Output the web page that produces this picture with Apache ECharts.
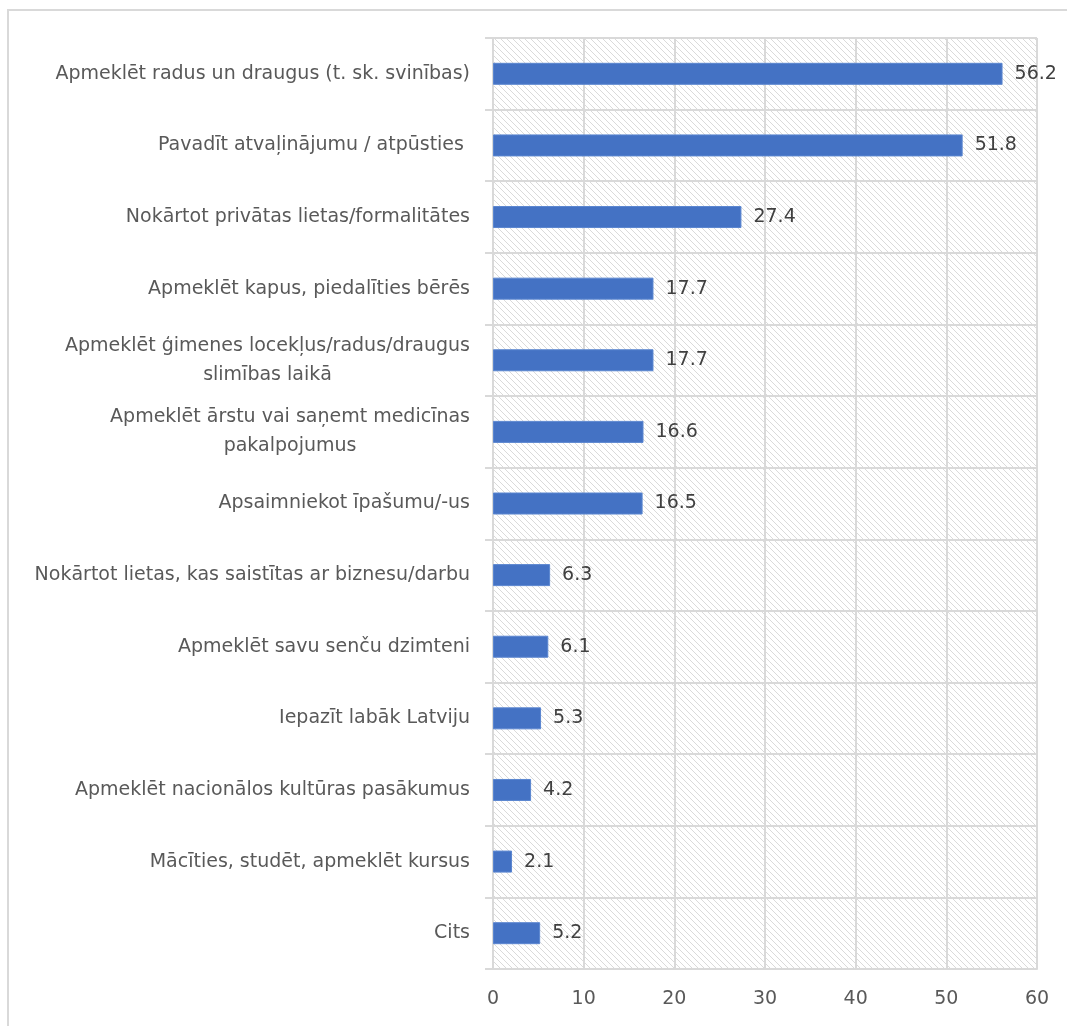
<!DOCTYPE html>
<html>
<head>
<meta charset="utf-8">
<script src="https://cdn.jsdelivr.net/npm/echarts@6/dist/echarts.min.js"></script>
<style>
html,body{margin:0;padding:0;background:#fff;}
#chart{width:1067px;height:1026px;}
</style>
</head>
<body>
<div id="chart"></div>
<script>
const categories = [
  'Apmeklēt radus un draugus (t. sk. svinības)',
  'Pavadīt atvaļinājumu / atpūsties ',
  'Nokārtot privātas lietas/formalitātes',
  'Apmeklēt kapus, piedalīties bērēs',
  'Apmeklēt ģimenes locekļus/radus/draugus\nslimības laikā',
  'Apmeklēt ārstu vai saņemt medicīnas\npakalpojumus',
  'Apsaimniekot īpašumu/-us',
  'Nokārtot lietas, kas saistītas ar biznesu/darbu',
  'Apmeklēt savu senču dzimteni',
  'Iepazīt labāk Latviju',
  'Apmeklēt nacionālos kultūras pasākumus',
  'Mācīties, studēt, apmeklēt kursus',
  'Cits'
];
const values = [56.2, 51.8, 27.4, 17.7, 17.7, 16.6, 16.5, 6.3, 6.1, 5.3, 4.2, 2.1, 5.2];
const xTicks = [0, 10, 20, 30, 40, 50, 60];

// hatch pattern
const tile = document.createElement('canvas');
tile.width = 6; tile.height = 6;
const c = tile.getContext('2d');
c.fillStyle = '#ffffff'; c.fillRect(0, 0, 6, 6);
c.strokeStyle = '#dadada'; c.lineWidth = 1;
c.beginPath();
c.moveTo(-1, -1); c.lineTo(7, 7);
c.moveTo(-1, 5); c.lineTo(1, 7);
c.moveTo(5, -1); c.lineTo(7, 1);
c.stroke();

const chart = echarts.init(document.getElementById('chart'), null, {renderer: 'canvas'});
const font = 'DejaVu Sans, Verdana, sans-serif';
chart.setOption({
  animation: false,
  backgroundColor: '#ffffff',
  graphic: [{
    type: 'rect', silent: true, z: -10,
    shape: {x: 8, y: 10, width: 1200, height: 1100},
    style: {fill: 'none', stroke: '#d9d9d9', lineWidth: 2}
  }],
  grid: {
    left: 493, right: 30, top: 38, bottom: 57,
    show: true,
    backgroundColor: {image: tile, repeat: 'repeat'},
    borderWidth: 0
  },
  xAxis: {
    type: 'value', min: xTicks[0], max: xTicks[xTicks.length - 1], interval: 10,
    axisLine: {show: true, lineStyle: {color: '#d9d9d9', width: 2}},
    axisTick: {show: false},
    splitLine: {show: true, lineStyle: {color: '#d9d9d9', width: 2}},
    axisLabel: {color: '#595959', fontSize: 19, fontFamily: font, margin: 21}
  },
  yAxis: {
    type: 'category', data: categories, inverse: true,
    axisLine: {show: true, lineStyle: {color: '#d9d9d9', width: 2}},
    axisTick: {show: true, length: 8, lineStyle: {color: '#d9d9d9', width: 2}},
    splitLine: {show: true, lineStyle: {color: '#d9d9d9', width: 2}},
    axisLabel: {
      color: '#595959', fontSize: 19, fontFamily: font, margin: 23,
      lineHeight: 29,
      formatter: function (v) {
        return v.split('\n').map(function (s) { return '{a|' + s + '}'; }).join('\n');
      },
      rich: {a: {align: 'center', color: '#595959', fontSize: 19, fontFamily: font, lineHeight: 29}}
    }
  },
  series: [{
    type: 'bar', data: values, barWidth: 22,
    itemStyle: {color: '#4472C4', borderColor: '#5a86d0', borderWidth: 1},
    label: {
      show: true, position: 'right', distance: 12,
      color: '#404040', fontSize: 19, fontFamily: font,
      formatter: function (p) { return p.value.toFixed(1); }
    }
  }]
});
</script>
</body>
</html>
